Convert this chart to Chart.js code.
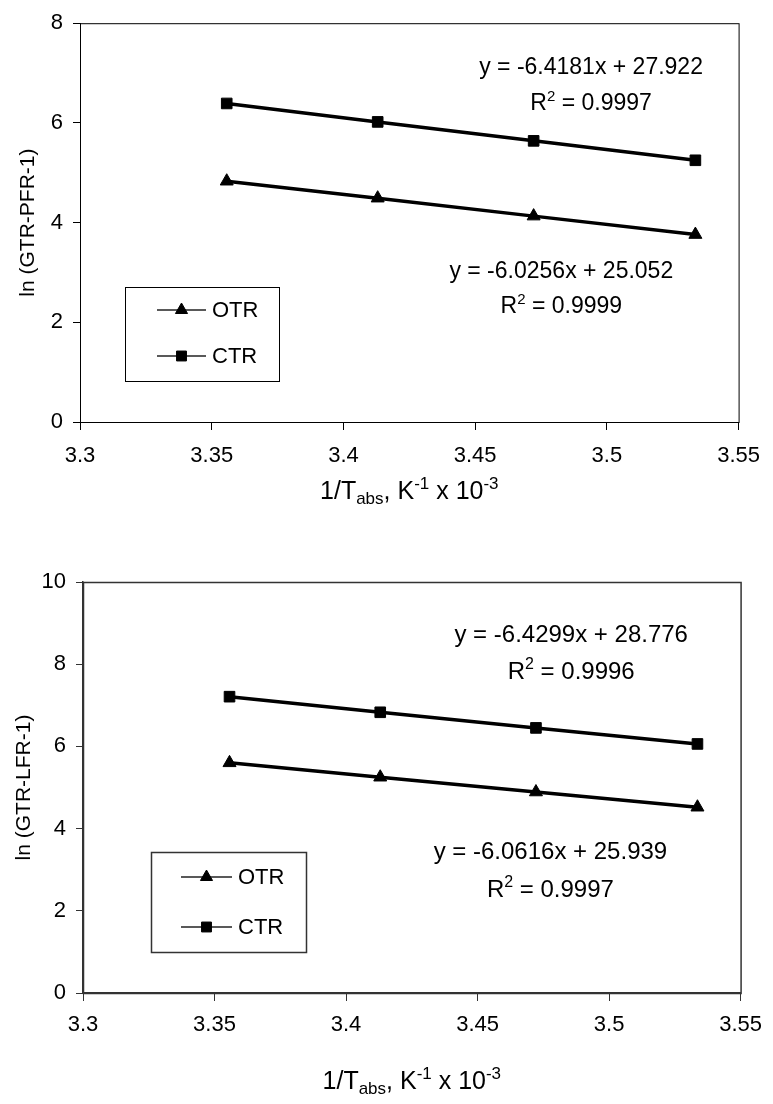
<!DOCTYPE html>
<html lang="en">
  <head>
    <meta charset="UTF-8" />
    <title>ln (GTR-PFR-1) and ln (GTR-LFR-1)</title>
    <script src="https://cdn.jsdelivr.net/npm/chart.js@4.4.1/dist/chart.umd.min.js"></script>
    <style>
      body { margin: 0; background: #fff; }
      canvas { display: block; }
    </style>
  </head>
  <body>
    <canvas id="pfr-chart" width="773" height="550"></canvas>
    <canvas id="lfr-chart" width="773" height="554"></canvas>
    <script>
      // 1/T (K^-1 x 10^-3) for the four temperatures
      const invT = [3.3557, 3.413, 3.4722, 3.5336];
      const xTicks = [3.3, 3.35, 3.4, 3.45, 3.5, 3.55];

      const pfrOTR = [4.83, 4.49, 4.13, 3.76];
      const pfrCTR = [6.39, 6.02, 5.64, 5.25];
      const lfrOTR = [5.6, 5.25, 4.89, 4.52];
      const lfrCTR = [7.21, 6.83, 6.45, 6.06];

      const pfrFits = [
        ['y = -6.4181x + 27.922', '0.9997'],
        ['y = -6.0256x + 25.052', '0.9999']
      ];
      const lfrFits = [
        ['y = -6.4299x + 28.776', '0.9996'],
        ['y = -6.0616x + 25.939', '0.9997']
      ];

      const fontFamily = '"Liberation Sans", Arial, sans-serif';
      const black = '#000';

      // text with sub/superscript parts, centred on (cx, cy)
      function drawRich(ctx, parts, cx, cy, size) {
        const small = Math.round(size * 0.66);
        let total = 0;
        parts.forEach(([t, k]) => {
          ctx.font = (k ? small : size) + 'px ' + fontFamily;
          total += ctx.measureText(t).width;
        });
        let x = cx - total / 2;
        const base = cy + size * 0.36;
        ctx.textAlign = 'left';
        ctx.textBaseline = 'alphabetic';
        ctx.fillStyle = black;
        parts.forEach(([t, k]) => {
          ctx.font = (k ? small : size) + 'px ' + fontFamily;
          let y = base;
          if (k === 'sup') y = base - size * 0.4;
          if (k === 'sub') y = base + size * 0.2;
          ctx.fillText(t, x, y);
          x += ctx.measureText(t).width;
        });
      }

      const decorPlugin = {
        id: 'decor',
        beforeDatasetsDraw(chart) {
          const { ctx, chartArea: a } = chart;
          const o = chart.options.plugins.decor;
          ctx.save();
          ctx.strokeStyle = o.frameColor;
          ctx.lineWidth = o.frameWidth;
          ctx.strokeRect(a.left + 0.5, a.top + 0.5, a.right - a.left, a.bottom - a.top);
          ctx.restore();
        },
        afterDraw(chart) {
          const { ctx, chartArea: a, scales } = chart;
          const o = chart.options.plugins.decor;
          ctx.save();

          // fit equations
          o.fits.forEach((fit, i) => {
            const pos = o.fitPos[i];
            const cx = scales.x.getPixelForValue(pos[0]);
            drawRich(ctx, [[fit[0], '']], cx, scales.y.getPixelForValue(pos[1]), o.fitSize);
            drawRich(ctx, [['R', ''], ['2', 'sup'], [' = ' + fit[1], '']],
              cx, scales.y.getPixelForValue(pos[2]), o.fitSize);
          });

          // axis titles
          drawRich(ctx, [['1/T', ''], ['abs', 'sub'], [', K', ''], ['-1', 'sup'], [' x 10', ''], ['-3', 'sup']],
            (a.left + a.right) / 2, o.xTitleY, o.titleSize);
          ctx.translate(o.yTitleX, (a.top + a.bottom) / 2);
          ctx.rotate(-Math.PI / 2);
          drawRich(ctx, [[o.yTitle, '']], 0, 0, 21);
          ctx.setTransform(1, 0, 0, 1, 0, 0);

          // legend box
          const L = o.legend;
          ctx.fillStyle = '#fff';
          ctx.fillRect(L.x, L.y, L.w, L.h);
          ctx.strokeStyle = o.frameColor;
          ctx.lineWidth = o.frameWidth;
          ctx.strokeRect(L.x + 0.5, L.y + 0.5, L.w, L.h);
          chart.data.datasets.forEach((ds, i) => {
            const y = L.rows[i];
            ctx.strokeStyle = '#222';
            ctx.lineWidth = 1.5;
            ctx.beginPath();
            ctx.moveTo(L.line[0], y);
            ctx.lineTo(L.line[1], y);
            ctx.stroke();
            ctx.fillStyle = black;
            ctx.strokeStyle = black;
            ctx.lineWidth = 1;
            Chart.helpers.drawPoint(ctx, { pointStyle: ds.pointStyle, radius: 7, borderWidth: 1, rotation: 0 },
              (L.line[0] + L.line[1]) / 2, y);
            ctx.font = '22px ' + fontFamily;
            ctx.textAlign = 'left';
            ctx.textBaseline = 'middle';
            ctx.fillText(ds.label, L.textX, y + 1);
          });
          ctx.restore();
        }
      };

      function buildChart(id, cfg) {
        const tickFont = { family: fontFamily, size: cfg.tickSize };
        const series = (vals) => invT.map((x, i) => ({ x: x, y: vals[i] }));
        const axisBorder = { color: cfg.decor.frameColor, width: cfg.decor.frameWidth };
        return new Chart(document.getElementById(id), {
          type: 'line',
          data: {
            datasets: [
              {
                label: 'OTR',
                data: series(cfg.otr),
                pointStyle: 'triangle',
                pointRadius: 7.5,
                borderColor: black,
                backgroundColor: black,
                pointBackgroundColor: black,
                borderWidth: 3.5,
                pointBorderWidth: 1
              },
              {
                label: 'CTR',
                data: series(cfg.ctr),
                pointStyle: 'rect',
                pointRadius: 7.5,
                borderColor: black,
                backgroundColor: black,
                pointBackgroundColor: black,
                borderWidth: 3.5,
                pointBorderWidth: 1
              }
            ]
          },
          options: {
            responsive: false,
            animation: false,
            layout: { padding: cfg.padding },
            plugins: {
              legend: { display: false },
              tooltip: { enabled: false },
              decor: cfg.decor
            },
            scales: {
              x: {
                type: 'linear',
                min: 3.3,
                max: 3.55,
                afterBuildTicks: (s) => { s.ticks = xTicks.map((v) => ({ value: v })); },
                afterFit: (s) => { s.height = cfg.xHeight; },
                ticks: {
                  color: black,
                  font: tickFont,
                  padding: cfg.xPad,
                  maxRotation: 0,
                  callback: (v) => String(Number(v.toFixed(2)))
                },
                grid: { drawOnChartArea: false, tickLength: 8, color: cfg.decor.frameColor },
                border: axisBorder
              },
              y: {
                min: 0,
                max: cfg.yMax,
                afterFit: (s) => { s.width = cfg.yWidth; },
                ticks: { stepSize: 2, color: black, font: tickFont, padding: 10 },
                grid: { drawOnChartArea: false, tickLength: 7, color: cfg.decor.frameColor },
                border: axisBorder
              }
            }
          },
          plugins: [decorPlugin]
        });
      }

      buildChart('pfr-chart', {
        otr: pfrOTR,
        ctr: pfrCTR,
        yMax: 8,
        padding: { top: 17, right: 32, left: 0, bottom: 0 },
        yWidth: 80,
        xHeight: 128,
        xPad: 13,
        tickSize: 22,
        decor: {
          frameColor: black,
          frameWidth: 1,
          fits: pfrFits,
          fitPos: [[3.494, 7.15, 6.42], [3.4827, 3.06, 2.35]],
          fitSize: 23,
          titleSize: 25,
          xTitleY: 490,
          yTitle: 'ln (GTR-PFR-1)',
          yTitleX: 26,
          legend: { x: 125, y: 287, w: 154, h: 94, rows: [310, 356], line: [157, 206], textX: 212 }
        }
      });

      buildChart('lfr-chart', {
        otr: lfrOTR,
        ctr: lfrCTR,
        yMax: 10,
        padding: { top: 32, right: 26, left: 0, bottom: 0 },
        yWidth: 83,
        xHeight: 111,
        xPad: 11,
        tickSize: 22,
        decor: {
          frameColor: '#333',
          frameWidth: 1.5,
          fits: lfrFits,
          fitPos: [[3.4856, 8.76, 7.86], [3.4777, 3.48, 2.55]],
          fitSize: 24,
          titleSize: 25,
          xTitleY: 530,
          yTitle: 'ln (GTR-LFR-1)',
          yTitleX: 22,
          legend: { x: 151, y: 302, w: 155, h: 100, rows: [327, 377], line: [181, 232], textX: 238 }
        }
      });
    </script>
  </body>
</html>
